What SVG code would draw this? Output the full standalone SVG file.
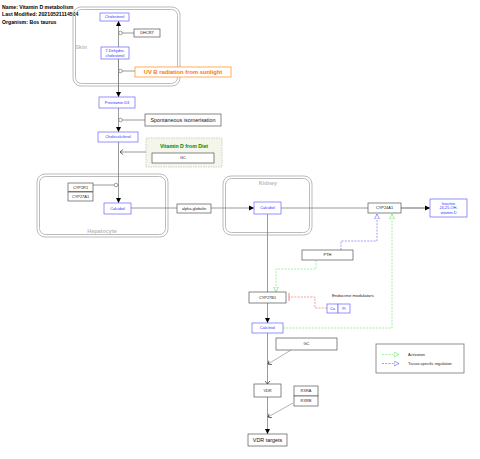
<svg xmlns="http://www.w3.org/2000/svg" width="480" height="459" viewBox="0 0 480 459">
<style>
text{font-family:"Liberation Sans",Arial,sans-serif}
.hdr{font-size:5.2px;font-weight:bold;fill:#000}
.comp{fill:none;stroke:#bbb;stroke-width:1}
.clab{font-size:5.5px;font-weight:bold;fill:#bbb;text-anchor:middle}
.gp{fill:#fff;stroke:#555;stroke-width:0.7}
.met{fill:#fff;stroke:#66f;stroke-width:0.7}
.gt{font-size:3.9px;fill:#222;text-anchor:middle}
.mt{font-size:3.9px;fill:#33f;text-anchor:middle}
.ln{fill:none;stroke:#808080;stroke-width:0.8}
.cat{fill:#fff;stroke:#777;stroke-width:0.7}
.act{fill:none;stroke:#7e7;stroke-width:0.7;stroke-dasharray:2,1.2}
.tsr{fill:none;stroke:#77e;stroke-width:0.7;stroke-dasharray:2,1.2}
.inh{fill:none;stroke:#e77;stroke-width:0.7;stroke-dasharray:2,1.2}
</style>
<defs>
<marker id="arr" markerWidth="6" markerHeight="6" refX="5" refY="3" orient="auto" markerUnits="userSpaceOnUse"><path d="M0,0.5 L5,3 L0,5.5 Z" fill="#000"/></marker>
<marker id="chev" markerWidth="6" markerHeight="6" refX="3" refY="3" orient="auto" markerUnits="userSpaceOnUse"><path d="M0,0.5 L3,3 L0,5.5" fill="none" stroke="#000" stroke-width="0.6"/></marker>
<marker id="tg" markerWidth="7" markerHeight="7" refX="5" refY="3" orient="auto" markerUnits="userSpaceOnUse"><path d="M0,0.5 L5,3 L0,5.5 Z" fill="#fff" stroke="#6d6" stroke-width="0.6"/></marker>
<marker id="tb" markerWidth="7" markerHeight="7" refX="5" refY="3" orient="auto" markerUnits="userSpaceOnUse"><path d="M0,0.5 L5,3 L0,5.5 Z" fill="#fff" stroke="#66e" stroke-width="0.6"/></marker>
<marker id="tbar" markerWidth="4" markerHeight="10" refX="1" refY="5" orient="auto" markerUnits="userSpaceOnUse"><path d="M1,1 L1,9" stroke="#e66" stroke-width="0.8"/></marker>
</defs>
<rect width="480" height="459" fill="#fff"/>

<g id="header">
<text class="hdr" x="2" y="9">Name: Vitamin D metabolism</text>
<text class="hdr" x="2" y="16">Last Modified: 20210521114504</text>
<text class="hdr" x="2" y="24">Organism: Bos taurus</text>
</g>

<g id="compartments">
<g id="skin"><rect class="comp" x="73" y="7" width="107" height="79" rx="8"/><rect class="comp" x="75.5" y="9.5" width="102" height="74" rx="6"/><text class="clab" x="81" y="49">Skin</text></g>
<g id="hepatocyte"><rect class="comp" x="37" y="174" width="131" height="63" rx="8"/><rect class="comp" x="39.5" y="176.5" width="126" height="58" rx="6"/><text class="clab" x="102" y="233">Hepatocyte</text></g>
<g id="kidney"><rect class="comp" x="223" y="176" width="89" height="59" rx="8"/><rect class="comp" x="225.5" y="178.5" width="84" height="54" rx="6"/><text class="clab" x="268" y="185">Kidney</text></g>
<g id="diet"><rect x="146" y="138" width="76" height="29" fill="#f5f5ec" stroke="#bcb" stroke-width="0.8" stroke-dasharray="1.5,1"/><text x="184" y="148" font-size="5.2px" font-weight="bold" fill="#080" text-anchor="middle">Vitamin D from Diet</text></g>
</g>

<g id="connectors">
<line class="ln" x1="118.5" y1="97" x2="118.5" y2="21" marker-end="url(#arr)"/>
<line class="ln" x1="118.5" y1="59" x2="118.5" y2="97" marker-end="url(#arr)"/>
<line class="ln" x1="122" y1="33" x2="134" y2="33"/>
<circle class="cat" cx="120.5" cy="33" r="1.8"/>
<line class="ln" x1="122" y1="71" x2="135" y2="71"/>
<circle class="cat" cx="120.5" cy="71" r="1.8"/>
<line class="ln" x1="118.5" y1="108" x2="118.5" y2="132" marker-end="url(#arr)"/>
<line class="ln" x1="122" y1="120" x2="145" y2="120"/>
<circle class="cat" cx="120.5" cy="120" r="1.8"/>
<line class="ln" x1="118.5" y1="142" x2="118.5" y2="203" marker-end="url(#arr)"/>
<line class="ln" x1="146" y1="152" x2="120" y2="152" marker-end="url(#chev)"/>
<line class="ln" x1="93" y1="185" x2="114" y2="185"/>
<circle class="cat" cx="116" cy="185" r="1.8"/>
<line class="ln" x1="131" y1="208" x2="177" y2="208"/>
<line class="ln" x1="211" y1="208" x2="254" y2="208" marker-end="url(#arr)"/>
<line class="ln" x1="281" y1="208" x2="368" y2="208"/>
<line x1="401" y1="208" x2="430" y2="208" stroke="#808080" stroke-width="1.2" marker-end="url(#arr)"/>
<line class="ln" x1="267.5" y1="214" x2="267.5" y2="323" marker-end="url(#arr)"/>
<polyline class="tsr" points="341,250 341,241 377,241 377,214" marker-end="url(#tb)"/>
<polyline class="act" points="316,260 316,269 276,269 276,292" marker-end="url(#tg)"/>
<polyline class="act" points="283,328 392,328 392,214" marker-end="url(#tg)"/>
<polyline class="inh" points="327,308 315,308 315,297 289,297" marker-end="url(#tbar)"/>
<line class="ln" x1="267.5" y1="333" x2="267.5" y2="384" marker-end="url(#chev)"/>
<line x1="291" y1="350" x2="268" y2="364" stroke="#808080" stroke-width="0.6" marker-end="url(#chev)"/>
<line class="ln" x1="267.5" y1="397" x2="267.5" y2="434" marker-end="url(#arr)"/>
<line x1="293" y1="403" x2="268" y2="417" stroke="#808080" stroke-width="0.6" marker-end="url(#chev)"/>
</g>

<g id="n-cholesterol"><rect class="met" x="100" y="13" width="29" height="8"/><text class="mt" x="114.5" y="18.3">Cholesterol</text></g>
<g id="n-dhcr7"><rect class="gp" x="134" y="29" width="26" height="8"/><text class="gt" x="147" y="34.3">DHCR7</text></g>
<g id="n-7dhc"><rect class="met" x="101" y="47" width="28" height="12"/><text class="mt" x="115" y="52.3">7-Dehydro-</text><text class="mt" x="115" y="56.6">cholesterol</text></g>
<g id="n-uvb"><rect x="135" y="67" width="96" height="10" fill="#fff" stroke="#f93" stroke-width="0.8"/><text x="183" y="74" font-size="5.8px" font-weight="bold" fill="#f70" text-anchor="middle">UV B radiation from sunlight</text></g>
<g id="n-previtamin"><rect class="met" x="99" y="97" width="36" height="11"/><text class="mt" x="117" y="103.8">Previtamin D3</text></g>
<g id="n-spont"><rect class="gp" x="145" y="114" width="76" height="12"/><text x="183" y="121.9" font-size="5.4px" fill="#111" text-anchor="middle">Spontaneous isomerisation</text></g>
<g id="n-cholecalciferol"><rect class="met" x="98" y="132" width="40" height="10"/><text class="mt" x="118" y="138.3">Cholecalciferol</text></g>
<g id="n-gc-diet"><rect class="gp" x="152" y="153" width="62" height="10"/><text class="gt" x="183" y="159.3">GC</text></g>
<g id="n-cyp2r1"><rect class="gp" x="68" y="183" width="25" height="8.5"/><text class="gt" x="80.5" y="188.5">CYP2R1</text></g>
<g id="n-cyp27a1"><rect class="gp" x="68" y="192" width="25" height="9"/><text class="gt" x="80.5" y="197.8">CYP27A1</text></g>
<g id="n-calcidiol-liver"><rect class="met" x="104" y="203" width="27" height="11"/><text class="mt" x="117.5" y="209.8">Calcidiol</text></g>
<g id="n-alphaglobulin"><rect class="gp" x="177" y="204" width="34" height="9"/><text class="gt" x="194" y="209.8">alpha-globulin</text></g>
<g id="n-calcidiol-kidney"><rect class="met" x="254" y="202" width="27" height="12"/><text class="mt" x="267.5" y="209.3">Calcidiol</text></g>
<g id="n-cyp24a1"><rect class="gp" x="368" y="203" width="33" height="10"/><text class="gt" x="384.5" y="209.3">CYP24A1</text></g>
<g id="n-inactive"><rect class="met" x="430" y="199" width="37" height="18"/><text class="mt" x="448.5" y="204.5">Inactive</text><text class="mt" x="448.5" y="209">24,25-OH-</text><text class="mt" x="448.5" y="213.5">vitamin D</text></g>
<g id="n-pth"><rect class="gp" x="302" y="250" width="51" height="10"/><text class="gt" x="327.5" y="256.3">PTH</text></g>
<g id="n-cyp27b1"><rect class="gp" x="249" y="292" width="37" height="11"/><text class="gt" x="267.5" y="298.8">CYP27B1</text></g>
<g id="n-endocrine"><text x="332" y="297" font-size="4.3px" fill="#222">Endocrine modulators</text></g>
<g id="n-ca"><rect class="met" x="327" y="304" width="11" height="9"/><text class="mt" x="332.5" y="309.8">Ca</text></g>
<g id="n-pi"><rect class="met" x="338" y="304" width="12" height="9"/><text class="mt" x="344" y="309.8">Pi</text></g>
<g id="n-calcitriol"><rect class="met" x="252" y="323" width="31" height="10"/><text class="mt" x="267.5" y="329.3">Calcitriol</text></g>
<g id="n-gc"><rect class="gp" x="276" y="338" width="61" height="12"/><text class="gt" x="306.5" y="345.3">GC</text></g>
<g id="n-vdr"><rect class="gp" x="254" y="384" width="27" height="13"/><text class="gt" x="267.5" y="391.8">VDR</text></g>
<g id="n-rxra"><rect class="gp" x="294" y="386" width="24" height="10"/><text class="gt" x="306" y="392.3">RXRA</text></g>
<g id="n-rxrb"><rect class="gp" x="294" y="396" width="24" height="10"/><text class="gt" x="306" y="402.3">RXRB</text></g>
<g id="n-vdrtargets"><rect class="gp" x="248" y="434" width="39" height="12"/><text x="267.5" y="441.8" font-size="5.4px" fill="#111" text-anchor="middle">VDR targets</text></g>

<g id="legend">
<rect x="376" y="344" width="88" height="29" fill="#fff" stroke="#777" stroke-width="0.8"/>
<line class="act" x1="382" y1="354.5" x2="399" y2="354.5" marker-end="url(#tg)"/>
<text x="408" y="356" font-size="3.9px" fill="#222">Activation</text>
<line class="tsr" x1="382" y1="363.5" x2="399" y2="363.5" marker-end="url(#tb)"/>
<text x="408" y="365" font-size="3.9px" fill="#222">Tissue-specific regulation</text>
</g>
</svg>
